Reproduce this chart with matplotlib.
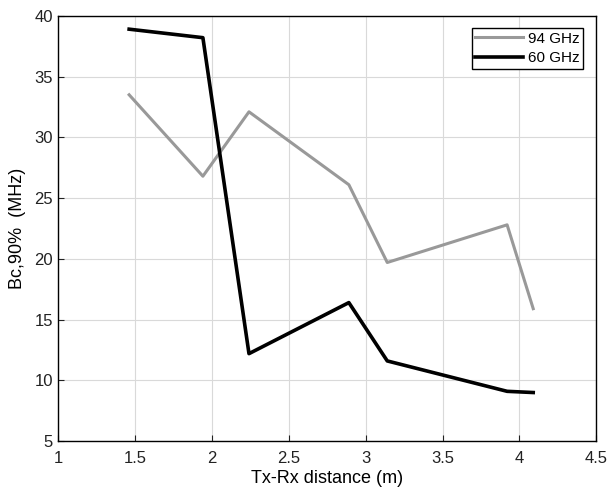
import matplotlib
matplotlib.use('Agg')
import matplotlib.pyplot as plt

plt.rcParams['font.family'] = ['Liberation Sans', 'DejaVu Sans']

# distances (m)
dist = [1.46, 1.94, 2.24, 2.89, 3.14, 3.92, 4.09]
bc_94 = [33.5, 26.8, 32.1, 26.1, 19.7, 22.8, 15.9]
bc_60 = [38.9, 38.2, 12.2, 16.4, 11.6, 9.1, 9.0]

xticks = [1, 1.5, 2, 2.5, 3, 3.5, 4, 4.5]
yticks = [5, 10, 15, 20, 25, 30, 35, 40]

fig = plt.figure(figsize=(6.09, 4.94), dpi=100)
ax = fig.add_axes([0.096, 0.107, 0.883, 0.861])

ax.plot(dist, bc_94, color='#999999', lw=2.2, label='94 GHz')
ax.plot(dist, bc_60, color='black', lw=2.6, label='60 GHz')

ax.set_xlim(1, 4.5)
ax.set_ylim(5, 40)
ax.set_xticks(xticks)
ax.set_xticklabels(['1', '1.5', '2', '2.5', '3', '3.5', '4', '4.5'])
ax.set_yticks(yticks)
ax.grid(True, color='#d9d9d9', lw=0.8)
ax.tick_params(direction='in', length=4, labelsize=12, colors='#222222')
ax.tick_params(axis='x', pad=7)
ax.tick_params(axis='y', pad=4)
for s in ax.spines.values():
    s.set_linewidth(1.0)

ax.set_xlabel('Tx-Rx distance (m)', fontsize=13, labelpad=3)
ax.set_ylabel('Bc,90%  (MHz)', fontsize=13, labelpad=6)

leg = ax.legend(loc='upper right', bbox_to_anchor=(0.976, 0.972), borderaxespad=0,
                fontsize=11, fancybox=False, framealpha=1, edgecolor='black',
                handlelength=3.1, borderpad=0.25, labelspacing=0.37, handletextpad=0.33)
leg.get_frame().set_linewidth(1.0)

fig.savefig('out.png', dpi=100)
